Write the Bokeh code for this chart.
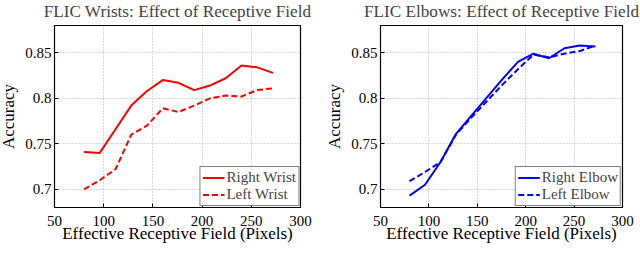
from bokeh.plotting import figure
from bokeh.layouts import row
from bokeh.models import Range1d, FixedTicker, Legend, LegendItem
from bokeh.embed import file_html
from bokeh.resources import INLINE

# ---- data ----
receptive_field = [80, 96, 112, 128, 144, 160, 176, 192, 208, 224, 240, 256, 272]
right_wrist = [0.741, 0.740, 0.766, 0.792, 0.808, 0.820, 0.817, 0.809, 0.814, 0.822, 0.836, 0.834, 0.828]
left_wrist = [0.700, 0.710, 0.722, 0.760, 0.770, 0.789, 0.785, 0.792, 0.800, 0.803, 0.802, 0.809, 0.811]
right_elbow = [0.693, 0.705, 0.730, 0.761, 0.781, 0.801, 0.821, 0.840, 0.849, 0.844, 0.855, 0.858, 0.857]
left_elbow = [0.709, 0.719, 0.730, 0.760, 0.779, 0.797, 0.815, 0.832, 0.848, 0.845, 0.849, 0.852, 0.858]

x_ticks = [50, 100, 150, 200, 250, 300]
y_ticks = [0.7, 0.75, 0.8, 0.85]
y_tick_labels = ["0.7", "0.75", "0.8", "0.85"]

titles = ["FLIC Wrists: Effect of Receptive Field", "FLIC Elbows: Effect of Receptive Field"]
series_names = [["Right Wrist", "Left Wrist"], ["Right Elbow", "Left Elbow"]]
colors = ["#ff0000", "#0000ff"]

FONT = "Liberation Serif"


def make_panel(title, solid, dashed, names, color, border_right, fw):
    p = figure(
        output_backend="svg", toolbar_location=None,
        frame_width=fw, frame_height=182,
        min_border_left=53, min_border_right=border_right,
        min_border_top=30, min_border_bottom=40,
        x_range=Range1d(50, 300), y_range=Range1d(0.68, 0.88),
        title=title,
    )
    p.title.text_font = FONT
    p.title.text_font_size = "17.2px"
    p.title.text_font_style = "normal"
    p.title.align = "center"
    p.title.standoff = 9
    p.title.offset = 0

    p.outline_line_color = "black"
    p.outline_line_width = 1.2
    p.background_fill_color = "white"
    p.border_fill_color = "white"

    for ax in (p.xaxis[0], p.yaxis[0]):
        ax.axis_line_color = "black"
        ax.major_tick_in = 4
        ax.major_tick_out = 0
        ax.minor_tick_line_color = None
        ax.major_tick_line_color = "black"
        ax.major_label_text_font = FONT
        ax.major_label_text_font_size = "15px"
        ax.major_label_text_color = "black"
        ax.axis_label_text_font = FONT
        ax.axis_label_text_font_size = "17px"
        ax.axis_label_text_font_style = "normal"
        ax.axis_label_text_color = "black"

    p.xaxis.ticker = FixedTicker(ticks=x_ticks)
    p.yaxis.ticker = FixedTicker(ticks=y_ticks)
    p.yaxis.major_label_overrides = dict(zip(y_ticks, y_tick_labels))
    p.xaxis.axis_label = "Effective Receptive Field (Pixels)"
    p.yaxis.axis_label = "Accuracy"
    p.xaxis.major_label_standoff = 8
    p.xaxis.axis_label_standoff = -5
    p.yaxis.major_label_standoff = 3
    p.yaxis.axis_label_standoff = 4

    p.xgrid.ticker = FixedTicker(ticks=x_ticks)
    p.ygrid.ticker = FixedTicker(ticks=y_ticks)
    for g in (p.xgrid[0], p.ygrid[0]):
        g.grid_line_color = "#b0b0b0"
        g.grid_line_dash = "1 2"
        g.grid_line_width = 1

    r1 = p.line(receptive_field, solid, line_color=color, line_width=2)
    r2 = p.line(receptive_field, dashed, line_color=color, line_width=2, line_dash="6 3")

    legend = Legend(items=[LegendItem(label=names[0], renderers=[r1]),
                           LegendItem(label=names[1], renderers=[r2])],
                    location="bottom_right")
    legend.margin = 1
    legend.padding = 2
    legend.spacing = 0
    legend.label_text_font = FONT
    legend.label_text_font_size = "15px"
    legend.label_height = 17
    legend.glyph_height = 17
    legend.glyph_width = 22
    legend.label_standoff = 2
    legend.border_line_color = "black"
    legend.border_line_width = 1
    legend.background_fill_alpha = 1
    p.add_layout(legend, "center")
    return p


p1 = make_panel(titles[0], right_wrist, left_wrist, series_names[0], colors[0], 22, 246)
p2 = make_panel(titles[1], right_elbow, left_elbow, series_names[1], colors[1], 20, 242)

layout = row(p1, p2, margin=(-5, 0, 0, -4))

open("out.html", "w").write(file_html(layout, INLINE))
